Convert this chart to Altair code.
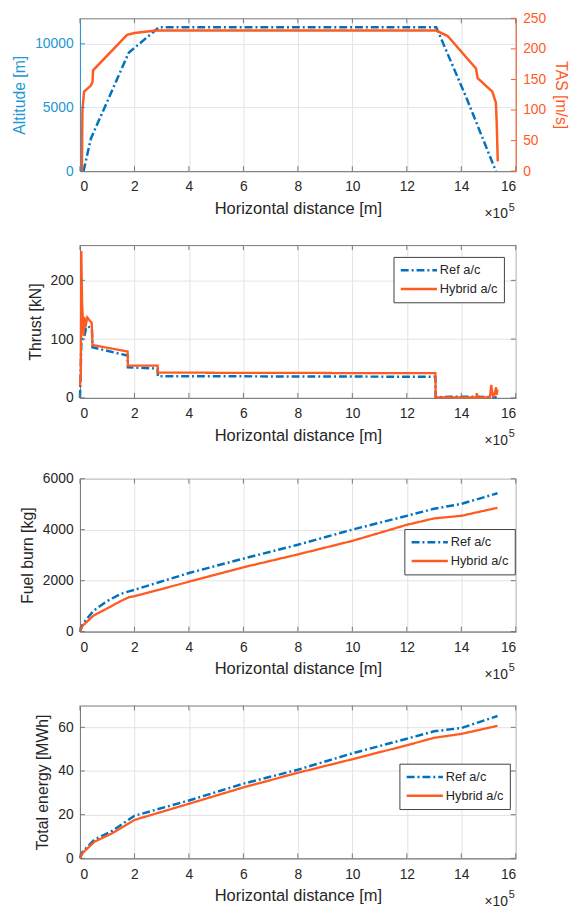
import altair as alt
import pandas as pd

# ---------------- data (horizontal distance in units of 1e5 m) ----------------
# Panel 1: altitude profile [m] and true air speed [m/s]
alt_x = [0.13, 0.40, 1.79, 2.90, 13.08, 14.20, 15.27]
alt_y = [0, 2550, 9300, 11300, 11300, 5700, 0]

tas_x = [0.07, 0.09, 0.15, 0.40, 0.46, 0.48, 1.73, 2.00, 2.79, 13.08, 13.50, 14.54, 14.60, 15.14, 15.27, 15.30, 15.34]
tas_y = [0, 100, 130, 140, 146, 165, 223, 226, 230, 230, 221, 168, 152, 130, 112, 80, 16]

# Panel 2: thrust [kN]
thr_ref_x = [0.00, 0.02, 0.05, 0.10, 0.15, 0.22, 0.30, 0.40, 0.44, 0.46, 1.75, 1.76, 2.85, 2.86, 13.05, 13.06, 13.60, 14.60, 15.30]
thr_ref_y = [0, 30, 95, 100, 102, 118, 122, 118, 116, 86, 72, 52, 50, 37, 36, 1, 2, 2, 1]
thr_hyb_x = [0.00, 0.03, 0.05, 0.08, 0.10, 0.13, 0.16, 0.20, 0.27, 0.40, 0.43, 0.46, 1.75, 1.76, 2.85, 2.86, 13.05, 13.06,
             14.55, 14.57, 14.60, 15.05, 15.10, 15.15, 15.20, 15.28, 15.30, 15.33]
thr_hyb_y = [20, 40, 250, 160, 140, 105, 138, 120, 137, 129, 128, 90, 79, 55, 55, 43, 42, 1,
             1, 8, 1, 1, 22, 5, 3, 18, 5, 14]

# Panel 3: fuel burn [kg]
fuel_ref_x = [0, 0.1, 0.5, 1.0, 1.5, 1.8, 2.0, 4.0, 6.0, 8.0, 10.0, 12.0, 13.0, 14.0, 15.33]
fuel_ref_y = [0, 300, 820, 1200, 1480, 1580, 1641, 2298, 2866, 3409, 4003, 4545, 4823, 5013, 5429]
fuel_hyb_x = [0, 0.1, 0.5, 1.0, 1.5, 1.8, 2.0, 4.0, 6.0, 8.0, 10.0, 12.0, 13.0, 14.0, 15.33]
fuel_hyb_y = [0, 230, 631, 909, 1200, 1350, 1389, 1957, 2525, 3030, 3561, 4192, 4444, 4545, 4861]

# Panel 4: total energy [MWh]
en_ref_x = [0, 0.1, 0.53, 1.2, 2.0, 4.0, 6.0, 8.0, 10.0, 12.0, 13.0, 14.0, 15.33]
en_ref_y = [0, 3.0, 8.6, 12.7, 19.5, 26.5, 34.2, 40.6, 48.1, 54.8, 58.2, 59.7, 65.2]
en_hyb_x = [0, 0.1, 0.53, 1.2, 2.0, 4.0, 6.0, 8.0, 10.0, 12.0, 13.0, 14.0, 15.33]
en_hyb_y = [0, 2.5, 7.6, 11.6, 17.6, 25.0, 32.5, 39.2, 45.4, 51.8, 55.2, 57.0, 60.7]

SERIES = ["Ref a/c", "Hybrid a/c"]
x_ticks = list(range(0, 17, 2))
alt_ticks = [0, 5000, 10000]
tas_ticks = [0, 50, 100, 150, 200, 250]
thr_ticks = [0, 100, 200]
fuel_ticks = [0, 2000, 4000, 6000]
en_ticks = [0, 20, 40, 60]

# ---------------- styling ----------------
BLUE = "#0072BD"
ORANGE = "#FF5A1F"
AX_BLUE = "#2196D3"
AX_ORANGE = "#FF5A1F"
DASH = [8, 3, 2, 3]
W, H = 442, 155
TXT = "#262626"
EDGE = "#777777"
TL = 5  # inward tick length
XTITLE = "Horizontal distance [m]"


def xaxis():
    return alt.Axis(values=x_ticks, format="d", title=XTITLE, grid=True)


def xenc(field="x"):
    return alt.X(f"{field}:Q", scale=alt.Scale(domain=[0, 16], nice=False), axis=xaxis())


def exp_label():
    t1 = alt.Chart(pd.DataFrame({"t": ["\u00d710"]})).mark_text(
        align="right", baseline="middle", fontSize=14, color=TXT, font="Liberation Sans"
    ).encode(text="t:N", x=alt.value(W - 8), y=alt.value(H + 44))
    t2 = alt.Chart(pd.DataFrame({"t": ["5"]})).mark_text(
        align="left", baseline="middle", fontSize=11, color=TXT, font="Liberation Sans"
    ).encode(text="t:N", x=alt.value(W - 7), y=alt.value(H + 37))
    return [t1, t2]


def frame(xs, ys):
    return pd.DataFrame({"x": xs, "y": ys, "i": list(range(len(xs)))})


def x_tick_marks():
    d = pd.DataFrame({"v": x_ticks})
    bot = alt.Chart(d).mark_rule(color=EDGE, strokeWidth=1).encode(
        x=xenc("v"), y=alt.value(H), y2=alt.value(H - TL))
    top = alt.Chart(d).mark_rule(color=EDGE, strokeWidth=1).encode(
        x=xenc("v"), y=alt.value(0), y2=alt.value(TL))
    return [bot, top]


def y_tick_marks(vals, dom, axis, left=True, right=True, color=EDGE):
    d = pd.DataFrame({"v": vals})
    if axis is None:
        ye = alt.Y("v:Q", scale=alt.Scale(domain=dom, nice=False), axis=None)
    else:
        ye = alt.Y("v:Q", scale=alt.Scale(domain=dom, nice=False), axis=axis)
    out = []
    if left:
        out.append(alt.Chart(d).mark_rule(color=color, strokeWidth=1).encode(
            y=ye, x=alt.value(0), x2=alt.value(TL)))
    if right:
        out.append(alt.Chart(d).mark_rule(color=color, strokeWidth=1).encode(
            y=ye, x=alt.value(W), x2=alt.value(W - TL)))
    return out


# ---------------- panel 1 ----------------
l_alt = alt.Chart(frame(alt_x, alt_y)).mark_line(color=BLUE, strokeWidth=2.5, strokeDash=DASH).encode(
    x=xenc(),
    y=alt.Y("y:Q", scale=alt.Scale(domain=[0, 12000], nice=False),
            axis=alt.Axis(title="Altitude [m]", values=alt_ticks, format="d",
                          labelColor=AX_BLUE, titleColor=AX_BLUE, domainColor=AX_BLUE,
                          gridColor="#dbe8f4")),
    order="i:Q",
)
l_tas = alt.Chart(frame(tas_x, tas_y)).mark_line(color=ORANGE, strokeWidth=2.5).encode(
    x=xenc(),
    y=alt.Y("y:Q", scale=alt.Scale(domain=[0, 250], nice=False),
            axis=alt.Axis(title="TAS [m/s]", orient="right", values=tas_ticks, format="d",
                          labelColor=AX_ORANGE, titleColor=AX_ORANGE, domainColor=AX_ORANGE, grid=False)),
    order="i:Q",
)
p1 = alt.layer(
    l_alt, l_tas,
    *x_tick_marks(),
    *y_tick_marks(alt_ticks, [0, 12000], None, left=True, right=False, color=AX_BLUE),
    *y_tick_marks(tas_ticks, [0, 250], None, left=False, right=True, color=AX_ORANGE),
    *exp_label(),
).resolve_scale(y="independent").properties(width=W, height=H)


# ---------------- panels 2-4 ----------------
def panel(rx, ry, hx, hy, title, dom, yt, lx, ly):
    df = pd.concat([
        frame(rx, ry).assign(s=SERIES[0]),
        frame(hx, hy).assign(s=SERIES[1]),
    ], ignore_index=True)
    leg = alt.Legend(title=None, orient="none", legendX=lx, legendY=ly)

    def yaxis():
        return alt.Axis(title=title, values=yt, format="d")

    enc = dict(
        x=xenc(),
        y=alt.Y("y:Q", scale=alt.Scale(domain=dom, nice=False), axis=yaxis()),
        color=alt.Color("s:N", scale=alt.Scale(domain=SERIES, range=[BLUE, ORANGE]), legend=leg),
        strokeDash=alt.StrokeDash("s:N", scale=alt.Scale(domain=SERIES, range=[DASH, [1, 0]]), legend=leg),
        order="i:Q",
    )
    base = alt.Chart(df)
    ref = base.transform_filter(alt.datum.s == SERIES[0]).mark_line(strokeWidth=2.5).encode(**enc)
    hyb = base.transform_filter(alt.datum.s == SERIES[1]).mark_line(strokeWidth=2.3).encode(**enc)
    return alt.layer(
        ref, hyb,
        *x_tick_marks(),
        *y_tick_marks(yt, dom, yaxis()),
        *exp_label(),
    ).properties(width=W, height=H)


p2 = panel(thr_ref_x, thr_ref_y, thr_hyb_x, thr_hyb_y, "Thrust [kN]", [0, 260], thr_ticks, 318, 12)
p3 = panel(fuel_ref_x, fuel_ref_y, fuel_hyb_x, fuel_hyb_y, "Fuel burn [kg]", [0, 6000], fuel_ticks, 329, 51)
p4 = panel(en_ref_x, en_ref_y, en_hyb_x, en_hyb_y, "Total energy [MWh]", [0, 70], en_ticks, 324, 59)

chart = alt.vconcat(p1, p2, p3, p4, spacing=22).resolve_legend(
    color="independent", strokeDash="independent"
).resolve_scale(
    color="independent", strokeDash="independent"
).properties(
    padding={"left": 3, "top": -4, "right": 0, "bottom": 0}
).configure(font="Liberation Sans").configure_axis(
    labelFontSize=14, titleFontSize=16, labelColor=TXT, titleColor=TXT, titleFontWeight="normal",
    labelFont="Liberation Sans", titleFont="Liberation Sans",
    domainColor=EDGE, gridColor="#e3e3e3", ticks=False, tickSize=0,
    labelPadding=7, titlePadding=7,
).configure_axisX(labelPadding=9, titlePadding=7, titleFontSize=16.7).configure_view(
    stroke=EDGE, strokeWidth=1
).configure_legend(
    symbolType="M-1,0H5", symbolSize=150, symbolStrokeWidth=2.5, labelFontSize=13, labelColor=TXT,
    labelFont="Liberation Sans", strokeColor="#404040", fillColor="white", padding=6, rowPadding=4,
    labelOffset=26, cornerRadius=0,
)

chart.save("out.html", embed_options={"renderer": "svg", "actions": False})
